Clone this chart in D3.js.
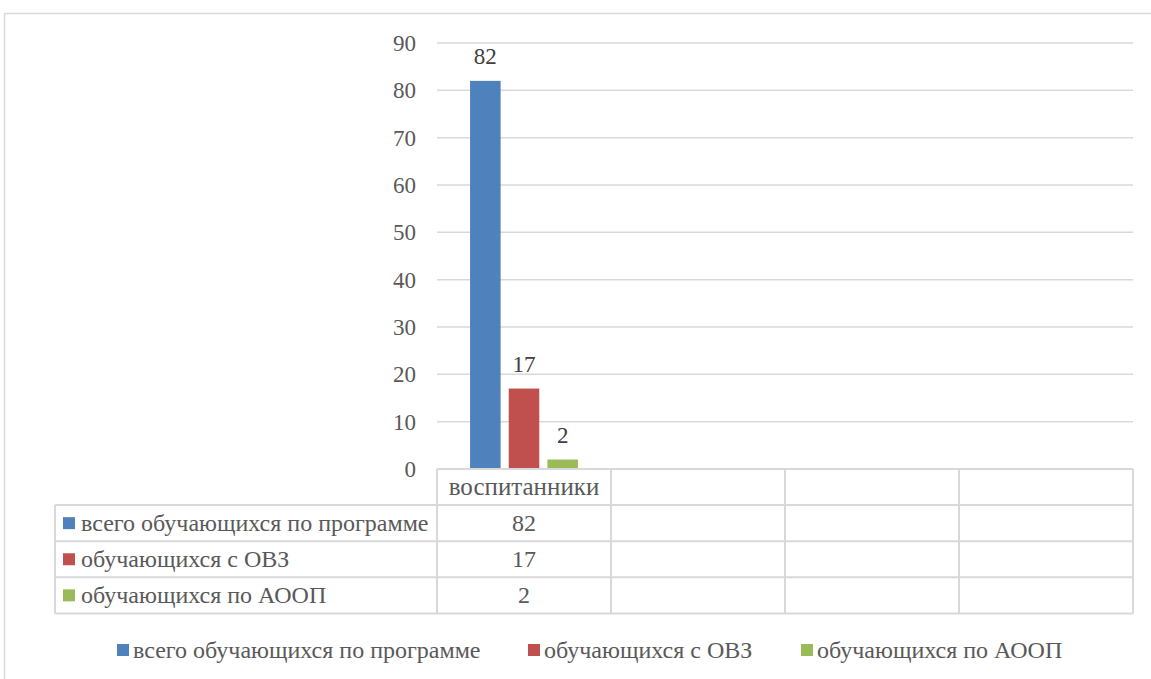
<!DOCTYPE html>
<html><head><meta charset="utf-8">
<script src="https://cdn.jsdelivr.net/npm/d3@7/dist/d3.min.js"></script>
<style>html,body{margin:0;padding:0;background:#fff;}</style>
</head><body>
<script>
const categories = ["воспитанники", "", "", ""];
const seriesNames = ["всего обучающихся по программе", "обучающихся с ОВЗ", "обучающихся по АООП"];
const seriesValues = [[82, null, null, null], [17, null, null, null], [2, null, null, null]];
const seriesColors = ["#4F81BD", "#C0504D", "#9BBB59"];
const yTicks = [0, 10, 20, 30, 40, 50, 60, 70, 80, 90];

const FONT = "Liberation Serif";
const W = 1151, H = 679;
const svg = d3.select("body").append("svg").attr("width", W).attr("height", H);

svg.append("rect").attr("x", 4.5).attr("y", 13.5).attr("width", 1200).attr("height", 800)
  .attr("fill", "#fff").attr("stroke", "#D9D9D9").attr("stroke-width", 1.5);

const plotL = 437, plotR = 1133, plotT = 43, plotB = 469;
const y = d3.scaleLinear().domain([0, 90]).range([plotB, plotT]);
const x0 = d3.scaleBand().domain(d3.range(categories.length)).range([plotL, plotR]).padding(0);
const groupPad = x0.bandwidth() * 0.19;
const x1 = d3.scaleBand().domain(d3.range(seriesNames.length)).range([groupPad, x0.bandwidth() - groupPad]).paddingInner(0.21).paddingOuter(0);

// gridlines
svg.append("g").selectAll("line").data(yTicks.filter(d => d > 0)).join("line")
  .attr("x1", plotL).attr("x2", plotR).attr("y1", d => y(d)).attr("y2", d => y(d))
  .attr("stroke", "#D9D9D9").attr("stroke-width", 1.5);

// y axis labels
const yAxis = d3.axisLeft(y).tickValues(yTicks).tickSize(0).tickPadding(21);
const ga = svg.append("g").attr("transform", `translate(${plotL},0)`).call(yAxis)
  .attr("font-family", FONT);
ga.select(".domain").remove();
ga.selectAll("text").attr("font-size", 23).attr("fill", "#595959").attr("font-family", FONT).attr("dy", "0.32em");

// bars
seriesNames.forEach((s, si) => {
  const g = svg.append("g");
  const data = seriesValues[si].map((v, ci) => ({v, ci})).filter(d => d.v != null);
  g.selectAll("rect").data(data).join("rect")
    .attr("x", d => x0(d.ci) + x1(si)).attr("width", x1.bandwidth())
    .attr("y", d => y(d.v)).attr("height", d => y(0) - y(d.v))
    .attr("fill", seriesColors[si]);
  g.selectAll("text").data(data).join("text")
    .attr("x", d => x0(d.ci) + x1(si) + x1.bandwidth() / 2)
    .attr("y", d => y(d.v) - 17).attr("text-anchor", "middle").attr("font-family", FONT)
    .attr("font-size", 23).attr("fill", "#404040").text(d => d.v);
});

// data table
const rowTop = plotB, rowH = 36.1;
const tableL = 55;
const tg = svg.append("g").attr("stroke", "#D9D9D9").attr("stroke-width", 2).attr("fill", "none");
tg.append("line").attr("x1", plotL).attr("x2", plotR).attr("y1", rowTop).attr("y2", rowTop);
d3.range(1, seriesNames.length + 2).forEach(i => {
  tg.append("line").attr("x1", tableL).attr("x2", plotR).attr("y1", rowTop + i * rowH).attr("y2", rowTop + i * rowH);
});
d3.range(categories.length + 1).forEach(i => {
  const xx = i < categories.length ? x0(i) : plotR;
  tg.append("line").attr("x1", xx).attr("x2", xx).attr("y1", rowTop).attr("y2", rowTop + (seriesNames.length + 1) * rowH);
});
tg.append("line").attr("x1", tableL).attr("x2", tableL).attr("y1", rowTop + rowH).attr("y2", rowTop + (seriesNames.length + 1) * rowH);

// header text
svg.append("g").selectAll("text").data(categories).join("text")
  .attr("x", (d, i) => x0(i) + x0.bandwidth() / 2).attr("y", rowTop + rowH / 2).attr("dy", "0.32em")
  .attr("text-anchor", "middle").attr("font-family", FONT).attr("font-size", 25).attr("fill", "#595959").text(d => d);

// rows
seriesNames.forEach((s, si) => {
  const cy = rowTop + (si + 1) * rowH + rowH / 2;
  svg.append("rect").attr("x", 63).attr("y", cy - 6).attr("width", 12).attr("height", 12).attr("fill", seriesColors[si]);
  svg.append("text").attr("x", 81).attr("y", cy).attr("dy", "0.32em").attr("font-family", FONT).attr("font-size", 24).attr("fill", "#595959").text(s);
  seriesValues[si].forEach((v, ci) => {
    if (v == null) return;
    svg.append("text").attr("x", x0(ci) + x0.bandwidth() / 2).attr("y", cy).attr("dy", "0.32em").attr("font-family", FONT)
      .attr("text-anchor", "middle").attr("font-size", 24).attr("fill", "#595959").text(v);
  });
});

// bottom legend
const legX = [117, 528, 801];
seriesNames.forEach((s, si) => {
  const g = svg.append("g").attr("transform", `translate(${legX[si]},650)`);
  g.append("rect").attr("x", 0).attr("y", -6).attr("width", 12).attr("height", 12).attr("fill", seriesColors[si]);
  g.append("text").attr("x", 16).attr("y", 0).attr("dy", "0.32em").attr("font-family", FONT).attr("font-size", 24).attr("fill", "#595959").text(s);
});
</script>
</body></html>
